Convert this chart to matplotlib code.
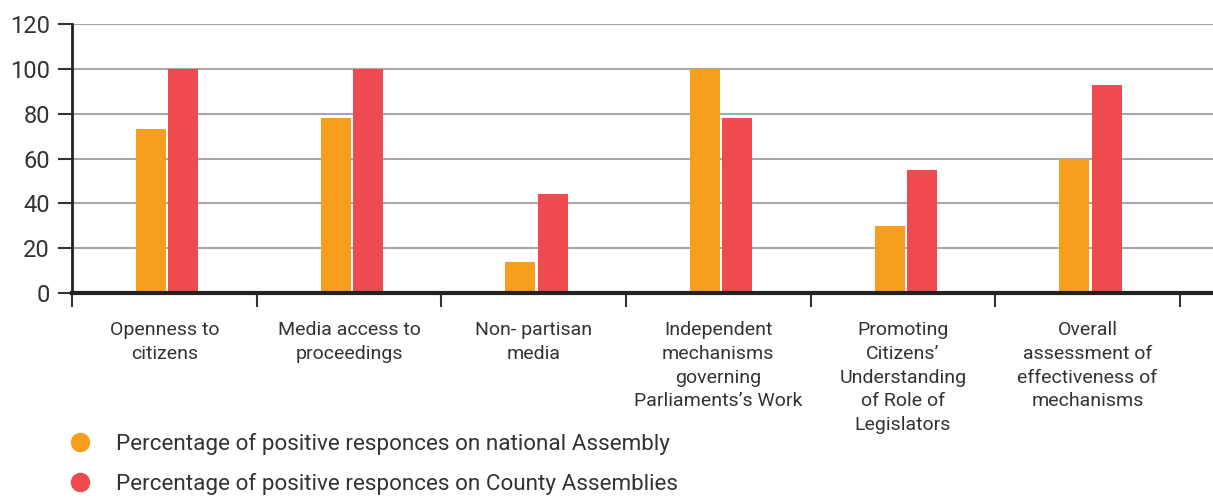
import numpy as np
import matplotlib.pyplot as plt
from matplotlib.lines import Line2D

plt.rcParams['font.family'] = ['Roboto', 'DejaVu Sans']

categories = ["Openness to\ncitizens", "Media access to\nproceedings", "Non- partisan\nmedia",
              "Independent\nmechanisms\ngoverning\nParliaments\u2019s Work",
              "Promoting\nCitizens\u2019\nUnderstanding\nof Role of\nLegislators",
              "Overall\nassessment of\neffectiveness of\nmechanisms"]
national = [73, 78, 14, 100, 30, 60]
county = [100, 100, 44, 78, 55, 93]
yticks = [0, 20, 40, 60, 80, 100, 120]

orange = '#F89E1E'
red = '#EE4A50'
txt = '#333333'

fig = plt.figure(figsize=(12.13, 4.99), dpi=100)
ax = fig.add_axes([72/1213, 206/499, 1 - 72/1213, 269/499])

x = np.arange(len(categories))
w = 0.163
ax.bar(x - w/2 + 0.01, national, width=w, color=orange, zorder=3)
ax.bar(x + w/2 + 0.022, county, width=w, color=red, zorder=3)

ax.set_ylim(0, 120)
ax.set_xlim(-0.5, 5.68)
ax.set_yticks(yticks)
ax.yaxis.grid(True, color='#a8a8a8', linewidth=1.5, zorder=0)
ax.tick_params(axis='y', labelsize=17, labelcolor=txt, length=10, width=1.5, color='#333', pad=6)

ax.set_xticks(np.arange(-0.5, 6, 1))
ax.set_xticklabels([])
ax.set_xticks(x, minor=True)
ax.set_xticklabels(categories, minor=True, fontsize=14, color=txt, linespacing=1.42, va='top')
ax.tick_params(axis='x', which='major', length=10, width=1.5, color='#333', direction='out')
ax.tick_params(axis='x', which='minor', length=0, pad=20)

for s in ['top', 'right']:
    ax.spines[s].set_visible(False)
ax.spines['left'].set_linewidth(2)
ax.spines['left'].set_color('#222')
ax.spines['bottom'].set_linewidth(3)
ax.spines['bottom'].set_color('#222')
ax.spines['bottom'].set_zorder(4)

handles = [Line2D([], [], marker='o', linestyle='', markersize=13, color=orange),
           Line2D([], [], marker='o', linestyle='', markersize=13, color=red)]
labels = ["Percentage of positive responces on national Assembly",
          "Percentage of positive responces on County Assemblies"]
fig.legend(handles, labels, loc='upper left', bbox_to_anchor=(54/1213, 1 - 424/499),
           frameon=False, fontsize=16.2, labelcolor=txt, handletextpad=0.85,
           labelspacing=0.8, handlelength=1.5, borderaxespad=0)

fig.savefig('out.png', dpi=100)
